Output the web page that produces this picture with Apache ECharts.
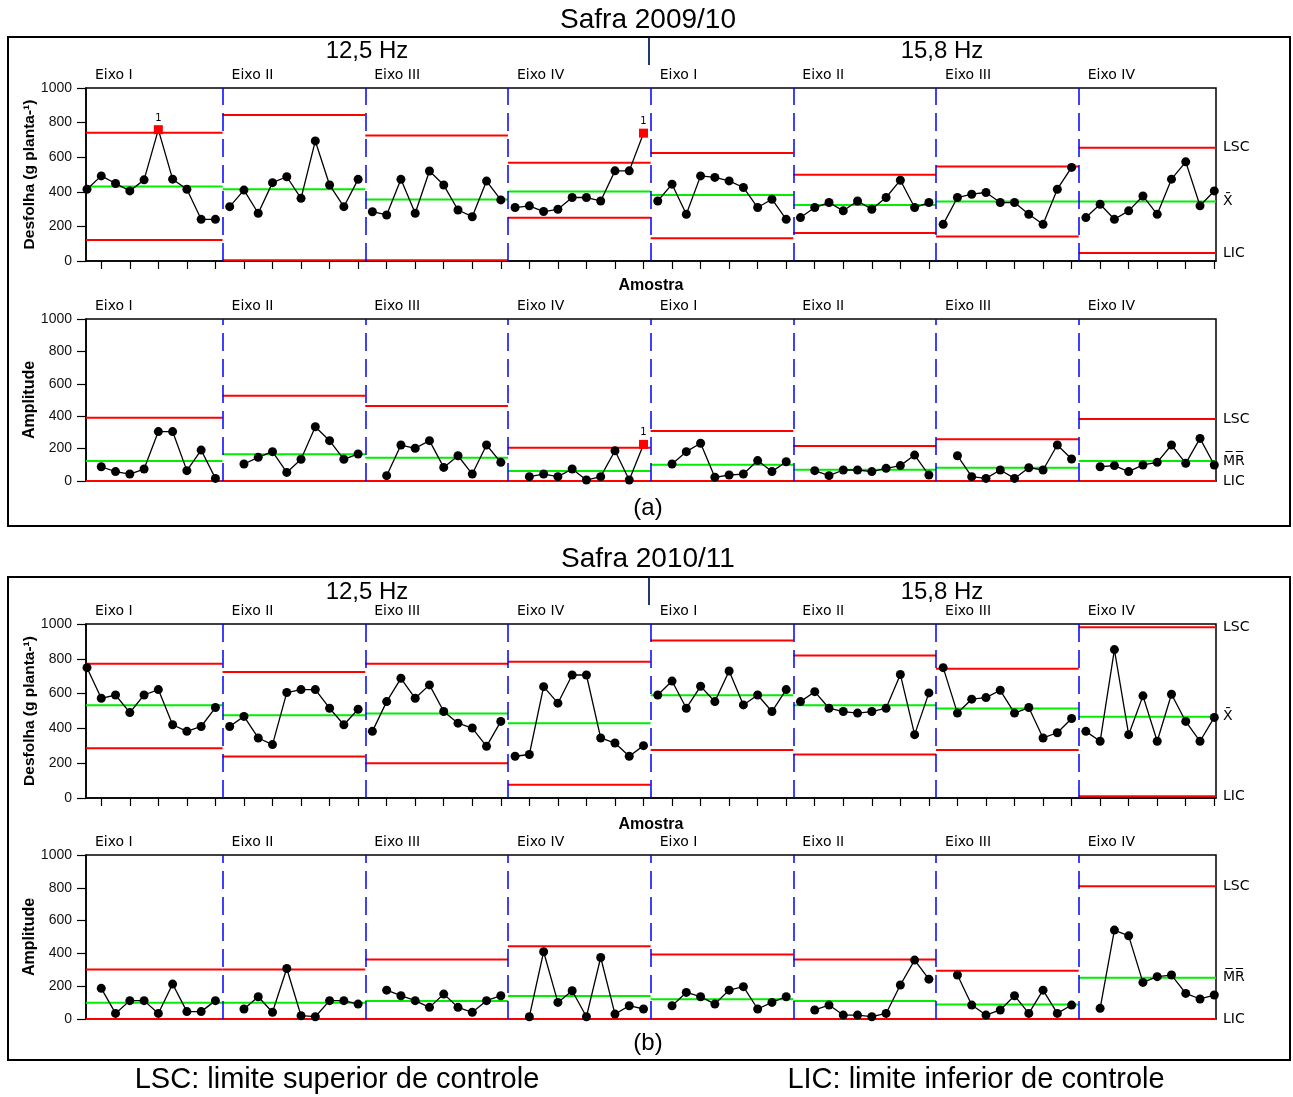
<!DOCTYPE html>
<html><head><meta charset="utf-8">
<script src="https://cdn.jsdelivr.net/npm/echarts@6/dist/echarts.min.js"></script>
<style>html,body{margin:0;padding:0;background:#fff}#c{width:1293px;height:1097px}</style>
</head><body><div id="c"></div><script>
// ---------- labels ----------
const stageNames = ['Eixo I','Eixo II','Eixo III','Eixo IV','Eixo I','Eixo II','Eixo III','Eixo IV'];
const freqNames = ['12,5 Hz','15,8 Hz'];
const safraNames = ['Safra 2009/10','Safra 2010/11'];
const panelTags = ['(a)','(b)'];
const yTickValues = [0,200,400,600,800,1000];
const xTickValues = [2,4,6,8,10,12,14,16,18,20,22,24,26,28,30,32,34,36,38,40,42,44,46,48,50,52,54,56,58,60,62,64,66,68,70,72,74,76,78,80];
const stageBounds = [10.5,20.5,30.5,40.5,50.5,60.5,70.5];

// ---------- Safra 2009/10 : individual values (10 per stage) ----------
const a_I = [
 415,492,448,405,469,759,473,415,241,241,
 314,410,276,453,487,362,694,439,314,472,
 285,266,472,276,520,439,295,256,462,353,
 309,319,286,299,367,367,347,521,521,739,
 347,444,270,492,483,463,425,309,357,241,
 251,309,338,290,347,299,367,467,309,338,
 212,367,386,396,338,338,270,212,415,541,
 251,328,241,290,376,270,473,573,319,405];
const a_I_LSC = [741,844,725,568,624,498,546,654];
const a_I_X   = [430,415,356,402,382,324,344,344];
const a_I_LIC = [122,5,5,250,131,162,141,46];

// ---------- Safra 2009/10 : moving ranges (9 per stage) ----------
const a_MR = [
 88,58,43,74,305,305,64,191,16,
 105,146,181,53,134,335,249,134,167,
 33,222,202,249,84,156,43,222,115,
 27,43,27,74,6,27,187,6,226,
 105,181,233,23,37,43,126,58,119,
 64,33,68,68,58,78,95,160,37,
 156,27,16,68,16,82,68,222,136,
 88,95,58,99,115,222,109,263,99];
const a_MR_LSC = [391,527,463,206,309,216,257,383];
const a_MR_C   = [123,165,144,62,101,70,82,123];

// ---------- Safra 2010/11 : individual values ----------
const b_I = [
 749,573,592,491,592,623,421,383,411,520,
 411,469,345,307,606,623,623,516,421,510,
 383,554,688,573,650,497,430,402,297,440,
 240,250,640,545,707,707,345,316,240,301,
 592,672,516,642,554,730,535,592,497,623,
 554,611,516,497,488,497,516,710,364,604,
 749,488,568,577,619,488,520,345,375,457,
 383,326,853,364,587,326,596,440,326,463];
const b_I_LSC = [771,724,771,783,905,819,743,981];
const b_I_X   = [533,476,486,429,590,533,514,467];
const b_I_LIC = [286,238,200,76,276,250,276,10];

// ---------- Safra 2010/11 : moving ranges ----------
const b_MR = [
 187,34,112,112,34,213,45,45,112,
 61,136,41,308,20,14,112,112,91,
 176,142,112,71,152,71,41,112,142,
 14,410,101,172,14,375,30,81,61,
 81,162,136,91,176,197,61,101,136,
 55,85,24,24,14,34,207,359,243,
 268,85,24,55,142,34,176,34,85,
 65,542,507,223,258,268,156,122,146];
const b_MR_LSC = [302,302,363,444,394,363,294,809];
const b_MR_C   = [99,99,110,140,120,110,89,252];

// flagged points: [stage, index within stage]
const a_I_flags = [[0,5],[3,9]];
const a_MR_flags = [[3,8]];

// ---------- layout ----------
const XMIN = 0.93, XMAX = 80.12;
const GL = 86, GW = 1130;
const charts = [
  {top:88,  h:173, vals:a_I,  lsc:a_I_LSC,  cl:a_I_X,  lic:a_I_LIC, mr:false, flags:a_I_flags, name:'Desfolha (g planta-¹)', mid:'X̄', amo:17},
  {top:319, h:162, vals:a_MR, lsc:a_MR_LSC, cl:a_MR_C, lic:null,    mr:true,  flags:a_MR_flags, name:'Amplitude', mid:'M̅R̅', amo:17},
  {top:624, h:174, vals:b_I,  lsc:b_I_LSC,  cl:b_I_X,  lic:b_I_LIC, mr:false, flags:[], name:'Desfolha (g planta-¹)', mid:'X̄', amo:19},
  {top:855, h:164, vals:b_MR, lsc:b_MR_LSC, cl:b_MR_C, lic:null,    mr:true,  flags:[], name:'Amplitude', mid:'M̅R̅', amo:17}
];
const RED = '#ff0000', GREEN = '#00ee00', BLUE = '#0000ff';
const SANS = 'Liberation Sans, Arial, sans-serif';
const SMALL = 'DejaVu Sans';

function px(x){ return GL + (x - XMIN) / (XMAX - XMIN) * GW; }

const grid = [], xAxis = [], yAxis = [], series = [], graphic = [];

charts.forEach((c, ci) => {
  grid.push({left:GL, width:GW, top:c.top, height:c.h, show:true, borderColor:'#000', borderWidth:1.5, backgroundColor:'transparent'});
  xAxis.push({
    gridIndex:ci, type:'value', min:XMIN, max:XMAX,
    axisLine:{show:true, onZero:false, lineStyle:{color:'#000', width:1.5}},
    axisTick:{show:!c.mr, customValues:xTickValues, length:8, lineStyle:{color:'#000', width:1.2}},
    axisLabel:{show:false}, splitLine:{show:false},
    name: c.mr ? '' : 'Amostra', nameLocation:'middle', nameGap:c.amo,
    nameTextStyle:{fontFamily:SANS, fontWeight:'bold', fontSize:16, color:'#000'}
  });
  yAxis.push({
    gridIndex:ci, type:'value', min:0, max:1000, interval:200,
    axisLine:{show:true, lineStyle:{color:'#000', width:1.5}},
    axisTick:{show:true, length:9, lineStyle:{color:'#000', width:1.2}},
    axisLabel:{fontFamily:SANS, fontSize:14, color:'#111', margin:14, formatter:v => String(v)},
    splitLine:{show:false},
    name:c.name, nameLocation:'middle', nameGap:48, nameMoveOverlap:false,
    nameTextStyle:{fontFamily:SANS, fontWeight:'bold', fontSize:c.mr ? 16 : 15.5, color:'#000'}
  });
  const per = c.mr ? 9 : 10;
  for (let k = 0; k < 8; k++) {
    const x0 = k === 0 ? XMIN : k*10 + 0.5;
    const x1 = k === 7 ? XMAX : (k+1)*10 + 0.5;
    const last = k === 7;
    const lim = (val, color, lab) => ({
      type:'line', xAxisIndex:ci, yAxisIndex:ci, data:[[x0,val],[x1,val]],
      symbol:'none', silent:true, animation:false, z:3,
      lineStyle:{color:color, width:2},
      endLabel:{show:last, formatter:lab, fontFamily:SMALL, fontSize:14, color:'#000', distance:7}
    });
    series.push(lim(c.lsc[k], RED, 'LSC'));
    series.push(lim(c.cl[k], GREEN, c.mid));
    series.push(lim(c.mr ? 0 : c.lic[k], RED, 'LIC'));
    const data = [];
    for (let j = 0; j < per; j++) {
      const x = k*10 + j + 1 + (c.mr ? 1 : 0);
      const v = c.vals[k*per + j];
      const flagged = c.flags.some(f => f[0] === k && f[1] === j);
      if (flagged) {
        data.push({value:[x, v], symbol:'rect', symbolSize:9, itemStyle:{color:RED},
          label:{show:true, formatter:'1', position:'top', distance:2, fontSize:10, fontFamily:SMALL, color:'#000'}});
      } else data.push([x, v]);
    }
    const s = {
      type:'line', xAxisIndex:ci, yAxisIndex:ci, data, animation:false, z:5,
      symbol:'circle', symbolSize:9, showAllSymbol:true,
      itemStyle:{color:'#000'}, lineStyle:{color:'#000', width:1.3}
    };
    if (k === 0) {
      s.markLine = {silent:true, symbol:'none', animation:false, label:{show:false},
        lineStyle:{color:BLUE, type:[18,8], width:1.5},
        data: stageBounds.map(b => ({xAxis:b}))};
    }
    series.push(s);
    // stage label
    graphic.push({type:'text', left:px(x0) + 9, top:c.top - 20,
      style:{text:stageNames[k], fontFamily:SMALL, fontSize:14, fill:'#000'}});
  }
});

// panel boxes, titles, frequency labels
const panels = [{y0:37, y1:526, title:20, freq:51, tag:508}, {y0:577, y1:1060, title:559, freq:592, tag:1043}];
panels.forEach((p, i) => {
  graphic.push({type:'rect', shape:{x:8, y:p.y0, width:1282, height:p.y1 - p.y0}, style:{fill:'none', stroke:'#000', lineWidth:2}, z:-1});
  graphic.push({type:'text', x:648, y:p.title, style:{text:safraNames[i], fontFamily:SANS, fontSize:28, fill:'#000', align:'center', verticalAlign:'middle'}});
  graphic.push({type:'text', x:367, y:p.freq, style:{text:freqNames[0], fontFamily:SANS, fontSize:24, fill:'#000', align:'center', verticalAlign:'middle'}});
  graphic.push({type:'text', x:942, y:p.freq, style:{text:freqNames[1], fontFamily:SANS, fontSize:24, fill:'#000', align:'center', verticalAlign:'middle'}});
  graphic.push({type:'line', shape:{x1:649, y1:p.y0 + 1, x2:649, y2:p.y0 + 28}, style:{stroke:'#1f3a6e', lineWidth:2}});
  graphic.push({type:'text', x:648, y:p.tag, style:{text:panelTags[i], fontFamily:SANS, fontSize:24, fill:'#000', align:'center', verticalAlign:'middle'}});
});
graphic.push({type:'text', x:337, y:1080, style:{text:'LSC: limite superior de controle', fontFamily:SANS, fontSize:29, fill:'#000', align:'center', verticalAlign:'middle'}});
graphic.push({type:'text', x:976, y:1080, style:{text:'LIC: limite inferior de controle', fontFamily:SANS, fontSize:29, fill:'#000', align:'center', verticalAlign:'middle'}});

const chart = echarts.init(document.getElementById('c'), null, {renderer:'canvas'});
chart.setOption({backgroundColor:'#fff', animation:false, grid, xAxis, yAxis, series, graphic});
</script></body></html>
